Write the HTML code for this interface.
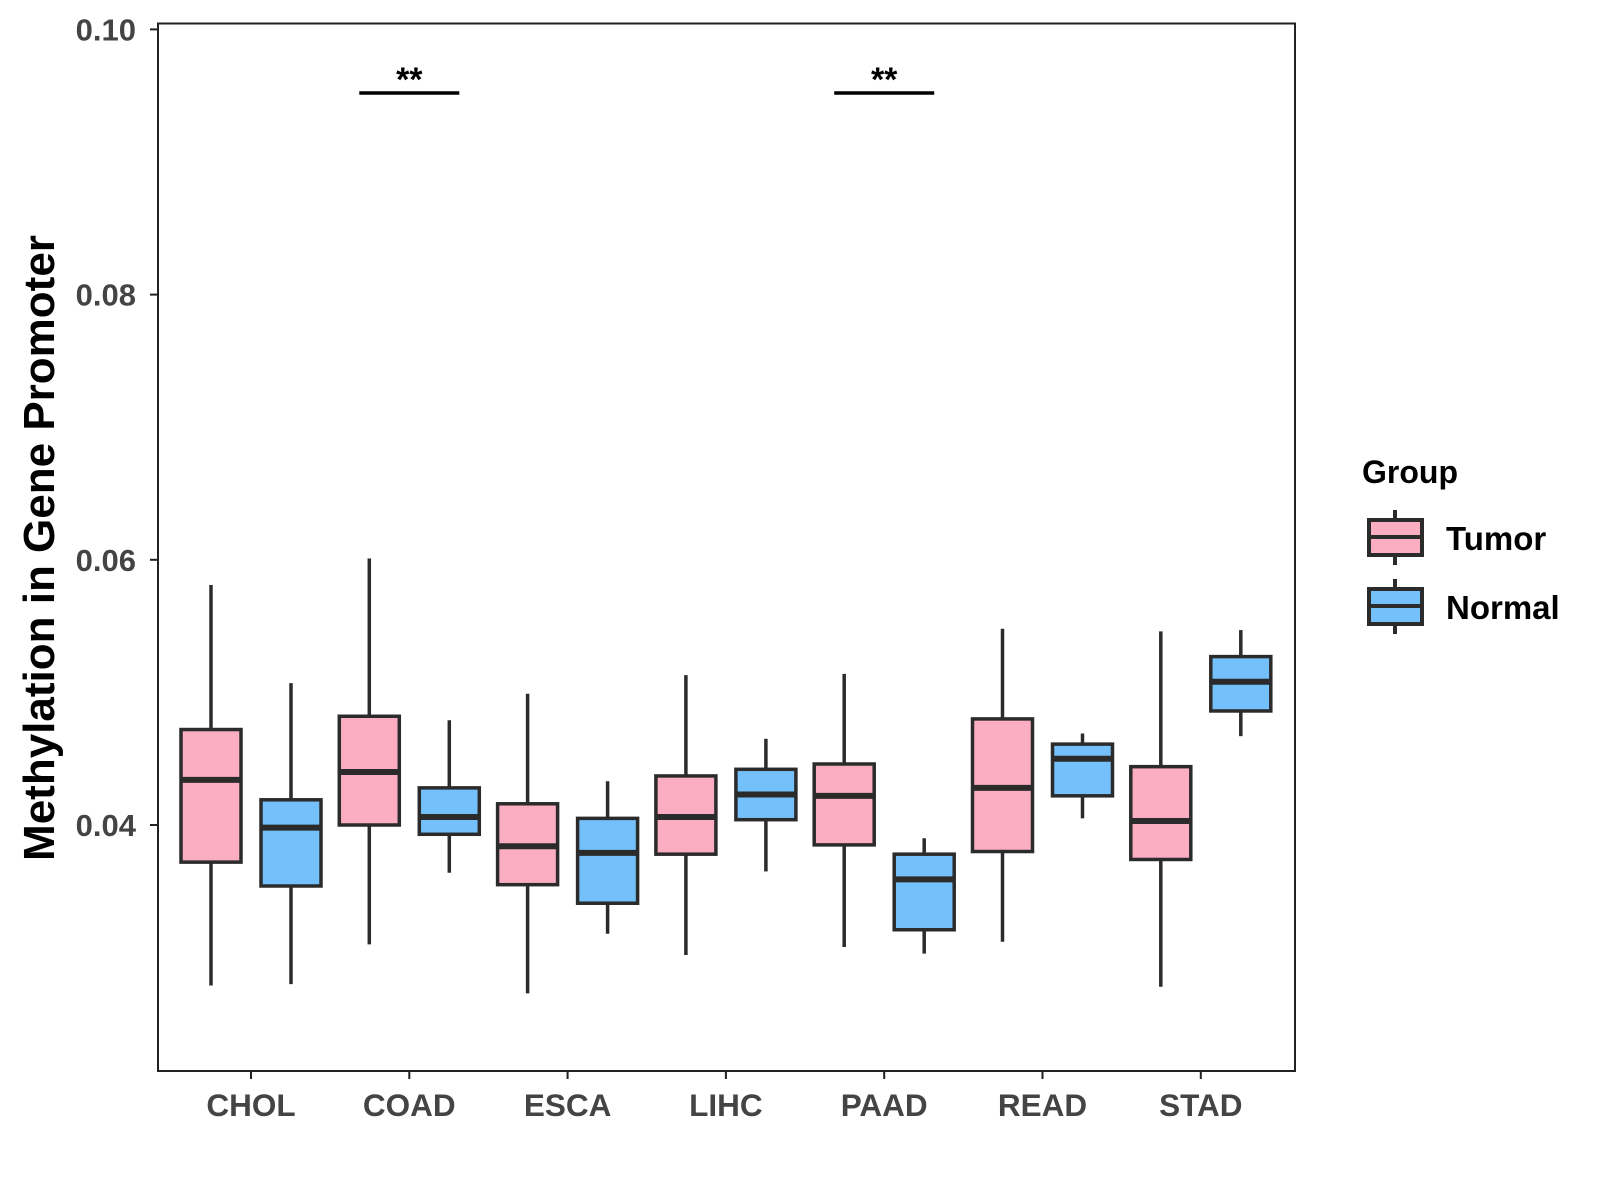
<!DOCTYPE html>
<html><head><meta charset="utf-8"><style>
html,body{margin:0;padding:0;background:#fff;}
svg{display:block;font-family:"Liberation Sans",Arial,sans-serif;font-weight:bold;}
</style></head><body>
<svg id="chart" width="1600" height="1200" viewBox="0 0 1600 1200">
<rect x="158" y="23.5" width="1137" height="1047.5" fill="#fff" stroke="#222" stroke-width="2"/>
<g id="yaxis"></g>
<g id="xaxis"></g>
<g id="boxes"></g>
<g id="sig"></g>
<text x="54" y="548" transform="rotate(-90 54 548)" text-anchor="middle" font-size="44" fill="#000">Methylation in Gene Promoter</text>
<g>
<text x="1362" y="483" font-size="32" fill="#000">Group</text>
<g>
<line x1="1395" y1="510" x2="1395" y2="565" stroke="#2b2b2b" stroke-width="4"/>
<rect x="1369" y="520" width="53" height="35" fill="#FBAEC1" stroke="#2b2b2b" stroke-width="4"/>
<line x1="1369" y1="537" x2="1422" y2="537" stroke="#2b2b2b" stroke-width="4"/>
<text x="1446" y="550" font-size="33" fill="#000">Tumor</text>
</g>
<g>
<line x1="1395" y1="579" x2="1395" y2="634" stroke="#2b2b2b" stroke-width="4"/>
<rect x="1369" y="589" width="53" height="35" fill="#74C0FA" stroke="#2b2b2b" stroke-width="4"/>
<line x1="1369" y1="606" x2="1422" y2="606" stroke="#2b2b2b" stroke-width="4"/>
<text x="1446" y="619" font-size="33" fill="#000">Normal</text>
</g>
</g>
</svg>
<script>
const categories=["CHOL","COAD","ESCA","LIHC","PAAD","READ","STAD"];
// [lower whisker, Q1, median, Q3, upper whisker]
const tumorStats=[[0.0279,0.0372,0.0434,0.0472,0.0581],[0.0310,0.0400,0.0440,0.0482,0.0601],[0.0273,0.0355,0.0384,0.0416,0.0499],[0.0302,0.0378,0.0406,0.0437,0.0513],[0.0308,0.0385,0.0422,0.0446,0.0514],[0.0312,0.0380,0.0428,0.0480,0.0548],[0.0278,0.0374,0.0403,0.0444,0.0546]];
const normalStats=[[0.0280,0.0354,0.0398,0.0419,0.0507],[0.0364,0.0393,0.0406,0.0428,0.0479],[0.0318,0.0341,0.0379,0.0405,0.0433],[0.0365,0.0404,0.0423,0.0442,0.0465],[0.0303,0.0321,0.0359,0.0378,0.0390],[0.0405,0.0422,0.0450,0.0461,0.0469],[0.0467,0.0486,0.0508,0.0527,0.0547]];
const yTicks=[0.04,0.06,0.08,0.10];
const yTickLabels=["0.04","0.06","0.08","0.10"];
const sigCategories=["COAD","PAAD"];
const sigLabels=["**","**"];
const sigLevel=0.0952;

const NS="http://www.w3.org/2000/svg";
const y=v=>825-(v-0.04)*(265.2/0.02);
const x=i=>251+i*158.3;
function mk(tag,attrs,parent){const e=document.createElementNS(NS,tag);for(const k in attrs)e.setAttribute(k,attrs[k]);parent.appendChild(e);return e;}
const ya=document.getElementById('yaxis'),xa=document.getElementById('xaxis'),bx=document.getElementById('boxes'),sg=document.getElementById('sig');
yTicks.forEach((t,i)=>{
  const l=mk('line',{x1:150,x2:158,y1:y(t),y2:y(t),stroke:'#222','stroke-width':2},ya);
  
  
  const tx=mk('text',{x:136,y:y(t)+11,'text-anchor':'end','font-size':31,fill:'#444'},ya);
  tx.textContent=yTickLabels[i];
  
  
});
categories.forEach((c,i)=>{
  const l=mk('line',{x1:x(i),x2:x(i),y1:1071,y2:1079,stroke:'#222','stroke-width':2},xa);
  
  
  const tx=mk('text',{x:x(i),y:1116,'text-anchor':'middle','font-size':31.5,fill:'#444'},xa);
  tx.textContent=c;
  
  
});
function box(cx,s,fill,name){
  const g=mk('g',{},bx);
  
  
  const st={stroke:'#2b2b2b','stroke-width':3.5};
  mk('line',Object.assign({x1:cx,x2:cx,y1:y(s[0]),y2:y(s[1])},st),g);
  mk('line',Object.assign({x1:cx,x2:cx,y1:y(s[3]),y2:y(s[4])},st),g);
  mk('rect',Object.assign({x:cx-30,y:y(s[3]),width:60,height:y(s[1])-y(s[3]),fill:fill},st),g);
  mk('line',{x1:cx-30,x2:cx+30,y1:y(s[2]),y2:y(s[2]),stroke:'#2b2b2b','stroke-width':6},g);
}
categories.forEach((c,i)=>{
  box(x(i)-40,tumorStats[i],'#FBAEC1','box-tumor-'+c.toLowerCase());
  box(x(i)+40,normalStats[i],'#74C0FA','box-normal-'+c.toLowerCase());
});
sigCategories.forEach((c,k)=>{
  const i=categories.indexOf(c);
  const l=mk('line',{x1:x(i)-50,x2:x(i)+50,y1:y(sigLevel),y2:y(sigLevel),stroke:'#000','stroke-width':3.5},sg);
  
  
  const t=mk('text',{x:x(i),y:y(sigLevel)-2,'text-anchor':'middle','font-size':34,fill:'#000'},sg);
  t.textContent=sigLabels[k];
  
  
});
</script>
</body></html>
